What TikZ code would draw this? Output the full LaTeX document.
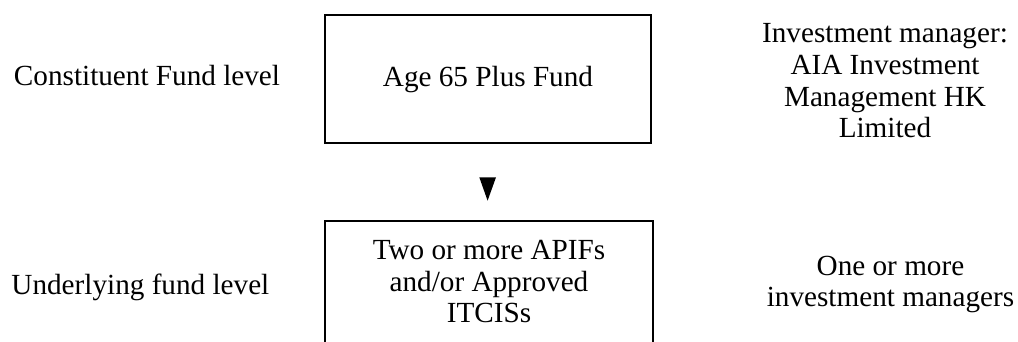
\documentclass[tikz,border=0pt]{standalone}
\usepackage{fontspec}
\setmainfont{Liberation Serif}
\tikzset{
  txt/.style={font=\fontsize{29.2pt}{31.7pt}\selectfont, inner sep=0pt, anchor=base, align=center},
  fundbox/.style={draw=black, line width=1.5pt, inner sep=0pt, font=\fontsize{29.2pt}{31.7pt}\selectfont},
}
\newcommand{\lines}[1]{\begin{tabular}[t]{@{}c@{}}#1\end{tabular}}
\begin{document}
\begin{tikzpicture}[x=1pt,y=-1pt]
\useasboundingbox (0,0) rectangle (1018,342);
\clip (0,0) rectangle (1018,342);
% boxes
\node[fundbox, minimum width=326pt, text height=71.5pt, text depth=56.5pt] (cf) at (488,86.5) [anchor=base] {Age 65 Plus Fund};
\node[fundbox, minimum width=328pt, text height=38.3pt, text depth=95.7pt] (uf) at (489,259.3) [anchor=base] {\lines{Two or more APIFs\\ and/or Approved\\ ITCISs}};
% arrow glyph
\fill (479.3,177.3) -- (496,177.3) -- (487.6,200.7) -- cycle;
% left labels
\node[txt] (cfl) at (147,86) {Constituent Fund level};
\node[txt] (ufl) at (140.4,294) {Underlying fund level};
% right labels
\node[txt] (cfm) at (885,42.7) {\lines{Investment manager:\\ AIA Investment\\ Management HK\\ Limited}};
\node[txt] (ufm) at (890.5,275) {\lines{One or more\\ investment managers}};
\end{tikzpicture}
\end{document}
